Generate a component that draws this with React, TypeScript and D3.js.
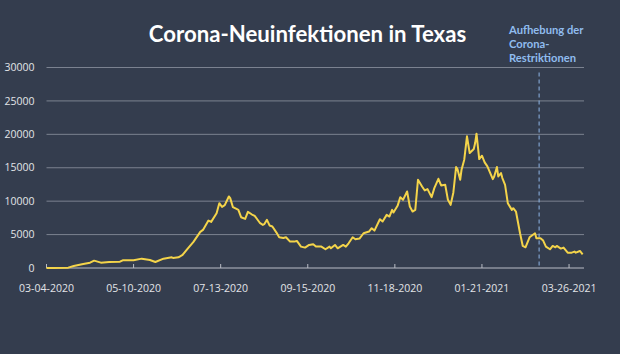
import React from 'react';
import * as d3 from 'd3';

// day offset since 03-04-2020, new cases (7-day avg)
const cases: [number, number][] = [
  [0, 0], [5, 0], [16, 50], [20, 300], [27, 600], [32, 800], [35, 1100], [40, 800],
  [46, 900], [54, 950], [56, 1150], [64, 1150], [70, 1400], [76, 1200], [80, 900],
  [86, 1400], [92, 1600], [93, 1500], [97, 1600], [100, 1950], [103, 2700], [108, 3900],
  [113, 5400], [115, 5700], [119, 7100], [121, 6900], [125, 8200], [127, 9700],
  [129, 9150], [131, 9400], [134, 10700], [135, 10450], [137, 9100], [140, 8800],
  [141, 8700], [143, 7600], [146, 7350], [148, 8400], [151, 8000], [153, 7800],
  [157, 6700], [159, 6450], [160, 6550], [162, 7200], [164, 6350], [166, 6200],
  [169, 5300], [171, 4600], [174, 4500], [176, 4600], [179, 3950], [182, 3950],
  [184, 4050], [187, 3200], [190, 3050], [193, 3450], [196, 3550], [198, 3200],
  [202, 3200], [205, 2800], [208, 3200], [209, 2950], [212, 3450], [214, 2950],
  [218, 3450], [220, 3200], [222, 3700], [225, 4600], [227, 4300], [230, 4400],
  [233, 5200], [237, 5450], [239, 5950], [241, 5600], [245, 7300], [247, 6950],
  [250, 7950], [252, 7700], [254, 8700], [255, 8300], [258, 9300], [260, 10600],
  [262, 10200], [265, 11450], [267, 9200], [269, 8450], [271, 8700], [273, 13200],
  [276, 12200], [278, 11600], [280, 11800], [283, 10600], [285, 11950], [288, 13350],
  [290, 12350], [293, 12450], [295, 10200], [297, 9450], [299, 11300], [301, 15100],
  [302, 14800], [304, 13200], [305, 14700], [307, 16200], [309, 19700], [311, 17200],
  [314, 17800], [315, 18700], [316, 20100], [318, 16300], [320, 16800], [322, 15800],
  [324, 15200], [328, 13300], [329, 13700], [331, 15100], [332, 13700], [334, 14200],
  [335, 13450], [337, 12450], [339, 9700], [342, 8700], [343, 8950], [345, 8450],
  [348, 5200], [350, 3300], [352, 3100], [355, 4600], [359, 5200], [360, 4450],
  [363, 4450], [365, 4100], [367, 3200], [370, 2800], [372, 3300], [374, 3100],
  [375, 3300], [378, 2900], [380, 3050], [383, 2300], [386, 2300], [388, 2450],
  [389, 2300], [392, 2550], [394, 2050],
];

const xTickDays = [0, 64, 128, 192, 256, 320, 384];
const xTickLabels = ['03-04-2020', '05-10-2020', '07-13-2020', '09-15-2020', '11-18-2020', '01-21-2021', '03-26-2021'];
const yTicks = [0, 5000, 10000, 15000, 20000, 25000, 30000];
const liftDay = 362;
const noteLines = ['Aufhebung der', 'Corona-', 'Restriktionen'];

export default function App() {
  const width = 620;
  const height = 354;
  const margin = { top: 67.5, right: 36, bottom: 86, left: 46.5 };
  const innerW = width - margin.left - margin.right;
  const innerH = height - margin.top - margin.bottom;

  const x = d3.scaleLinear().domain([0, 395]).range([0, innerW]);
  const y = d3.scaleLinear().domain([0, 30000]).range([innerH, 0]);

  const line = d3.line<[number, number]>()
    .x(d => x(d[0]))
    .y(d => y(d[1]))
    .curve(d3.curveLinear);

  const font = '"Open Sans", "DejaVu Sans", sans-serif';

  return (
    <svg width={width} height={height} style={{ position: 'absolute', left: 0, top: 0, background: '#343d4e' }}>
      <rect width={width} height={height} fill="#343d4e" />
      <text x={307.5} y={42} textAnchor="middle" fill="#ffffff" fontFamily="Lato, sans-serif" fontWeight={700} fontSize={22.2}>
        Corona-Neuinfektionen in Texas
      </text>

      <g transform={`translate(${margin.left},${margin.top})`}>
        {/* grid + y labels */}
        {yTicks.map(t => (
          <g key={t}>
            {t > 0 && <line x1={0} x2={innerW} y1={y(t)} y2={y(t)} stroke="#7b8290" strokeWidth={1} />}
            <text x={-12} y={y(t)} dy="0.35em" textAnchor="end" fill="#e2e4e8" fontFamily={font} fontSize={10.5}>{t}</text>
          </g>
        ))}

        {/* x axis */}
        <line x1={0} x2={innerW} y1={innerH} y2={innerH} stroke="#b9bdc6" strokeWidth={1} />
        {xTickDays.map((d, i) => (
          <g key={d} transform={`translate(${x(d)},${innerH})`}>
            <line y1={0} y2={-4} stroke="#b9bdc6" strokeWidth={1} />
            <text y={24} textAnchor="middle" fill="#e2e4e8" fontFamily={font} fontSize={10.5}>{xTickLabels[i]}</text>
          </g>
        ))}

        {/* annotation */}
        <line x1={x(liftDay)} x2={x(liftDay)} y1={5} y2={innerH} stroke="#8db6e6" strokeWidth={1} strokeDasharray="4 3" />

        <path d={line(cases) ?? ''} fill="none" stroke="#f4d44a" strokeWidth={2} strokeLinejoin="round" />
      </g>

      {noteLines.map((s, i) => (
        <text key={s} x={509} y={34 + i * 14} fill="#90bcee" fontFamily="Lato, sans-serif" fontWeight={700} fontSize={11.2}>{s}</text>
      ))}
    </svg>
  );
}
